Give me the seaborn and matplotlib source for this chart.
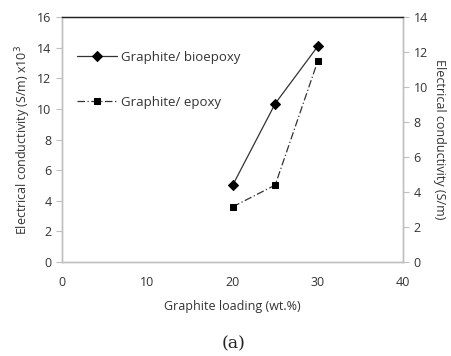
import pandas as pd
import numpy as np
import matplotlib.pyplot as plt
import seaborn as sns

# Data
loading = [20, 25, 30]
bioepoxy = [5.0, 10.35, 14.1]      # left axis, (S/m) x10^3
epoxy = [3.15, 4.4, 11.5]          # right axis, (S/m)

sns.set_theme(style="white")
plt.rcParams['font.family'] = ['Open Sans', 'DejaVu Sans']

fig = plt.figure(figsize=(4.52, 3.56), dpi=100)
ax = fig.add_axes([0.137, 0.264, 0.755, 0.688])
ax2 = ax.twinx()

df_bio = pd.DataFrame({"Loading": loading, "Conductivity": bioepoxy})
df_epo = pd.DataFrame({"Loading": loading, "Conductivity": epoxy})

sns.lineplot(data=df_bio, x="Loading", y="Conductivity", ax=ax, color="#333333",
             marker="D", markersize=5, markerfacecolor="black", markeredgecolor="black",
             linewidth=0.9, label="Graphite/ bioepoxy", legend=False)
sns.lineplot(data=df_epo, x="Loading", y="Conductivity", ax=ax2, color="#333333",
             marker="s", markersize=5, markerfacecolor="black", markeredgecolor="black",
             linewidth=0.9, linestyle=(0, (6, 2, 1, 2)), label="Graphite/ epoxy", legend=False)

ax.set_xlim(0, 40)
ax.set_ylim(0, 16)
ax2.set_ylim(0, 14)
ax.set_xticks([0, 10, 20, 30, 40])
ax.set_yticks(np.arange(0, 17, 2))
ax2.set_yticks(np.arange(0, 15, 2))

grey = "#bfbfbf"
for a in (ax, ax2):
    for s in ("left", "right", "bottom"):
        a.spines[s].set_color(grey)
        a.spines[s].set_linewidth(1.0)
    a.spines["top"].set_color("#222222")
    a.spines["top"].set_linewidth(0.9)
    a.tick_params(axis="both", colors="#333333", labelsize=9, length=4, width=0.8,
                  direction="out", color=grey)
    a.grid(False)
ax.tick_params(axis="x", pad=6)

ax.set_xlabel("Graphite loading (wt.%)", fontsize=9, color="#333333", labelpad=8)
ax.set_ylabel("Electrical conductivity (S/m) x10$^3$", fontsize=9, color="#333333", labelpad=3)
ax2.set_ylabel("Electrical conductivity (S/m)", fontsize=9, color="#333333",
               rotation=270, labelpad=13)

h1, l1 = ax.get_legend_handles_labels()
h2, l2 = ax2.get_legend_handles_labels()
leg = ax2.legend(h1 + h2, l1 + l2, loc="upper left", bbox_to_anchor=(0.01, 0.91),
                 frameon=False, fontsize=9.5, labelspacing=2.4, handlelength=3.0,
                 handletextpad=0.35, labelcolor="#333333")

fig.text(0.516, 0.022, "(a)", fontsize=12.5, family=["DejaVu Serif"], ha="center", color="#222222")

fig.savefig("out.png", dpi=100)
